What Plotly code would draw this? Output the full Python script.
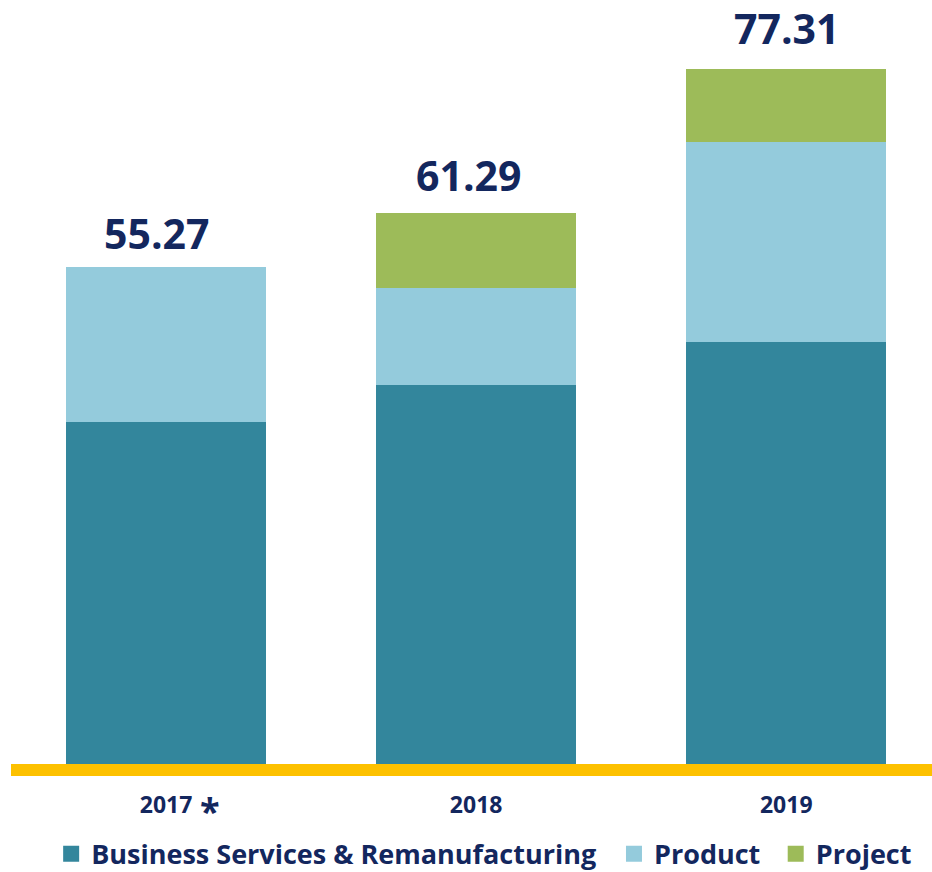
import plotly.graph_objects as go

categories = ["2017 *", "2018", "2019"]
business_services = [38.04, 42.16, 46.94]
product = [17.23, 10.79, 22.25]
project = [0.0, 8.34, 8.12]
series_names = ["Business Services & Remanufacturing", "Product", "Project"]

colors = ["#33869c", "#94cbdc", "#9dbb59"]
navy = "#13275e"
font_family = "Open Sans"

totals = [round(a + b + c, 2) for a, b, c in zip(business_services, product, project)]
label_shift_x = [-10, -8, 0]
label_shift_y = [34, 38, 41]
legend_ids = ["legend", "legend2", "legend3"]
legend_x = [0.0436, 0.6547, 0.8303]

fig = go.Figure()
for name, vals, col, lid in zip(series_names, [business_services, product, project], colors, legend_ids):
    fig.add_trace(go.Bar(x=categories, y=vals, name=name, marker=dict(color=col, line=dict(width=0)),
                         showlegend=False, hoverinfo="skip"))
    # legend proxy with larger square symbol
    fig.add_trace(go.Scatter(x=[None], y=[None], mode="markers", name=name, legend=lid,
                             marker=dict(symbol="square", size=18, color=col), showlegend=True))

for i, tot in enumerate(totals):
    fig.add_annotation(x=i, y=tot, text=f"{tot:.2f}", showarrow=False, yanchor="middle",
                       xshift=label_shift_x[i], yshift=label_shift_y[i],
                       font=dict(family=font_family, size=41, color=navy, weight="bold"))

# tick labels: year centred under its bar, footnote asterisk hanging to the right
ticktext = [c.split(" ")[0] for c in categories]
for i, c in enumerate(categories):
    if "*" in c:
        fig.add_annotation(x=i, xref="x", y=-0.0615, yref="paper", text="*", showarrow=False,
                           xanchor="center", yanchor="middle", xshift=44,
                           font=dict(family=font_family, size=36, color=navy, weight="bold"))

# yellow baseline
fig.add_shape(type="rect", xref="paper", yref="paper", x0=0, x1=1, y0=0, y1=-12 / 764,
              fillcolor="#fdc100", line=dict(width=0), layer="above")

legend_style = dict(orientation="h", y=-0.118, yanchor="middle", xanchor="left",
                    font=dict(family=font_family, size=27, color=navy, weight="bold"),
                    itemwidth=30, bgcolor="rgba(0,0,0,0)")

fig.update_layout(
    width=932, height=872,
    margin=dict(l=11, r=0, t=0, b=108, autoexpand=False),
    barmode="stack", bargap=0.355,
    plot_bgcolor="white", paper_bgcolor="white",
    xaxis=dict(type="category", range=[-0.5, 2.47], showgrid=False, zeroline=False, showline=False,
               ticks="", automargin=False, tickvals=categories, ticktext=ticktext,
               tickfont=dict(family=font_family, size=23, color=navy, weight="bold"),
               ticklabelstandoff=25),
    yaxis=dict(range=[0, 85.0], visible=False, showgrid=False, zeroline=False, automargin=False),
    legend=dict(x=legend_x[0], **legend_style),
    legend2=dict(x=legend_x[1], **legend_style),
    legend3=dict(x=legend_x[2], **legend_style),
    showlegend=True,
)

fig.write_html("out.html", config={"displayModeBar": False},
               post_script="document.body.style.margin='0';document.body.style.overflow='hidden';")
